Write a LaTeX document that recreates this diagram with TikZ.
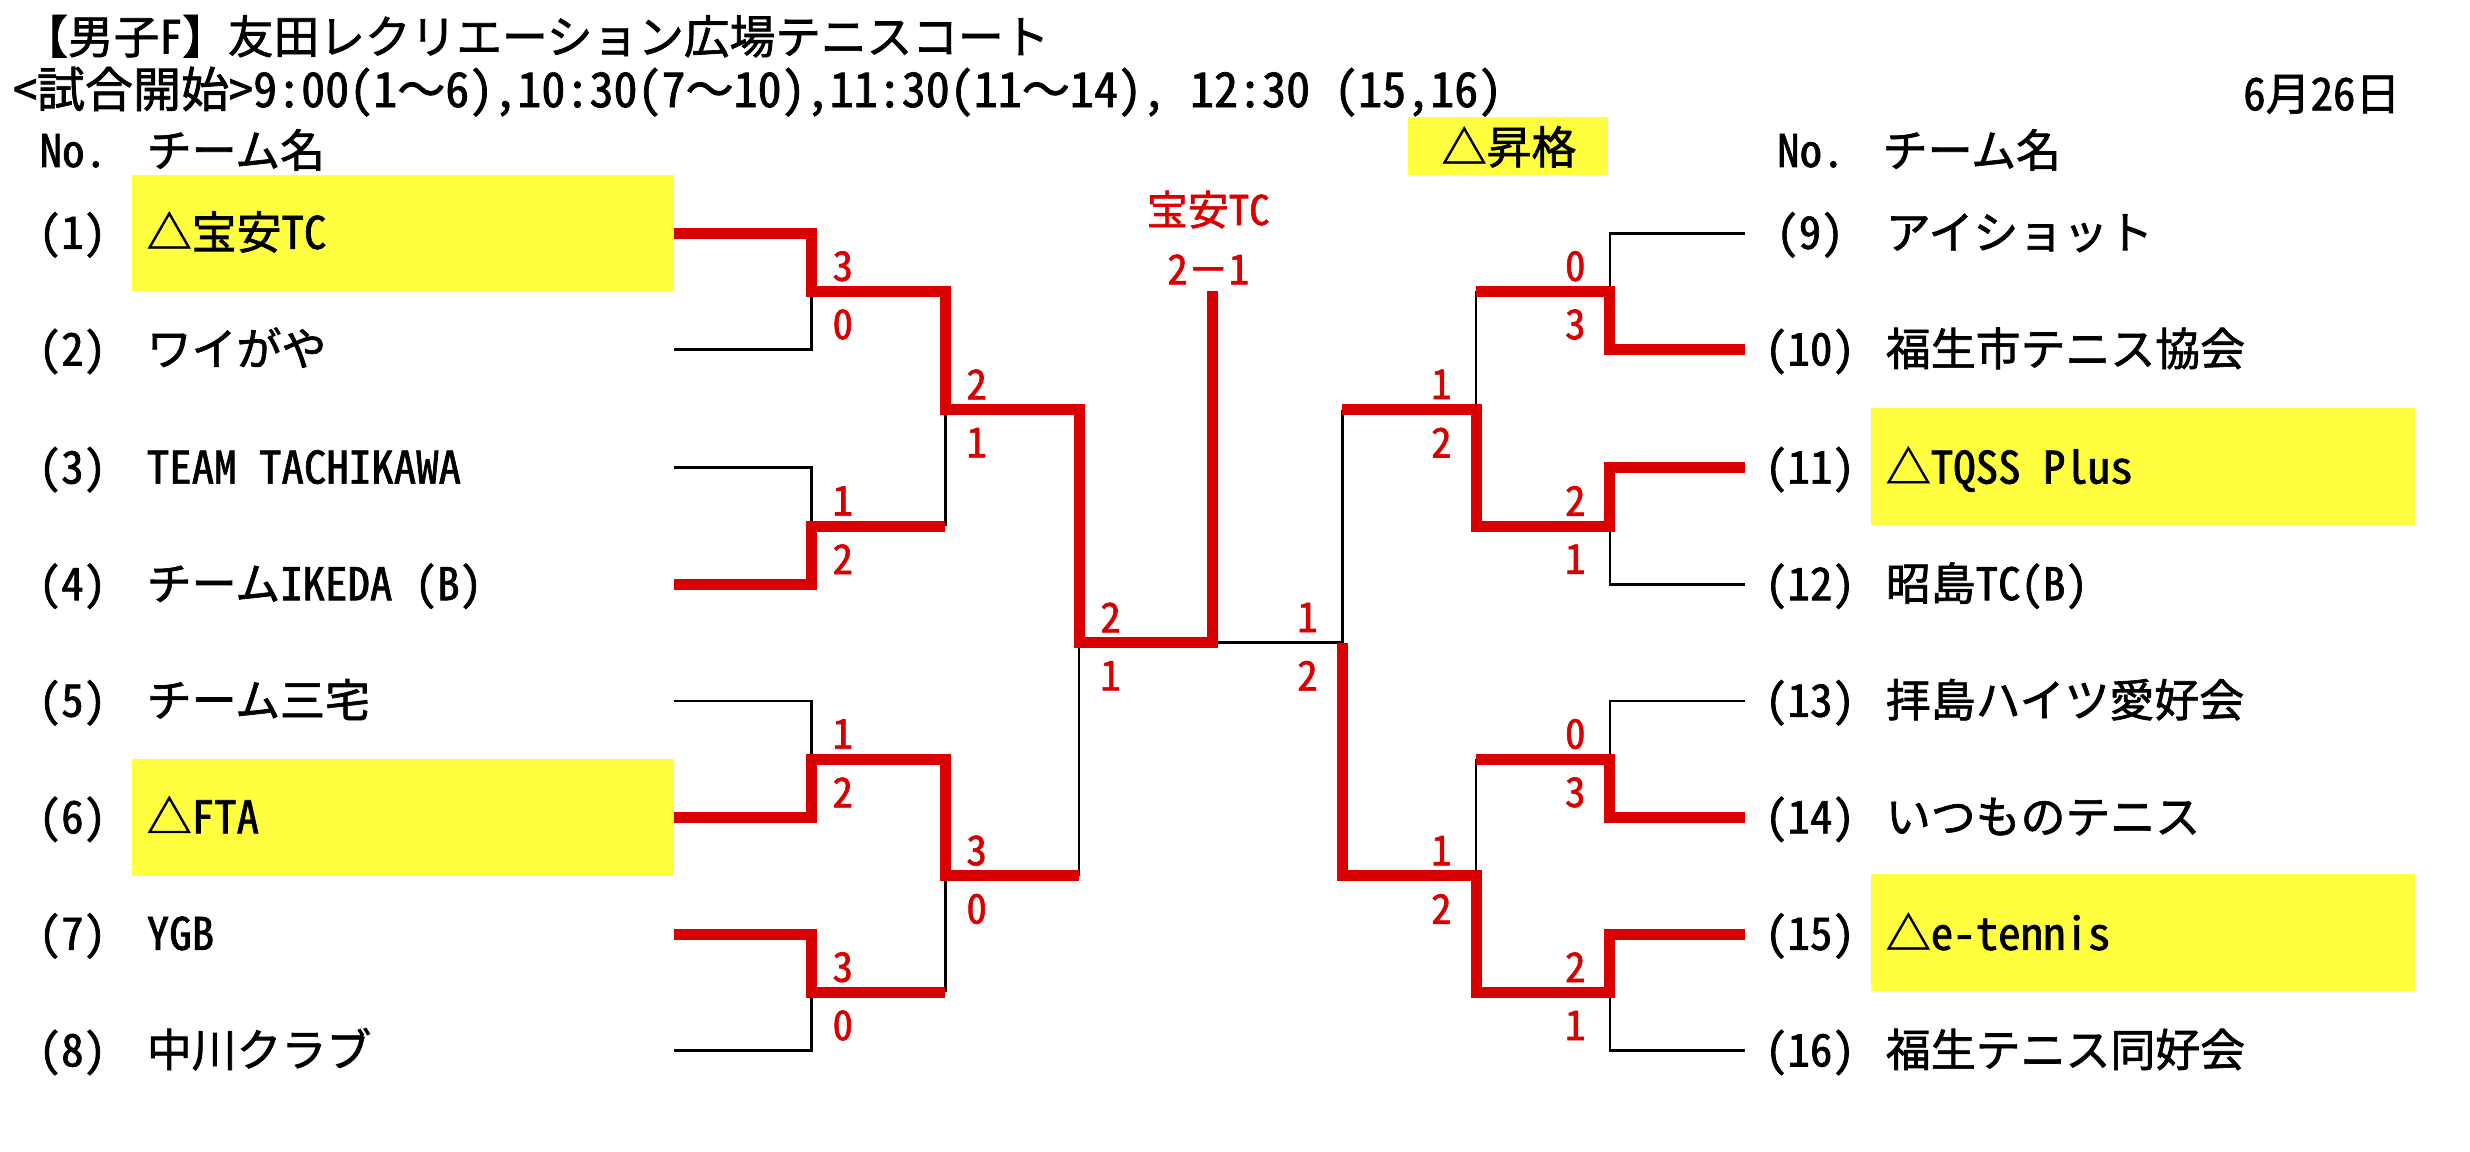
\documentclass[tikz,border=0pt]{standalone}
\usepackage{fontspec}
\setmainfont{Noto Sans CJK JP}[RawFeature=+hwid, FakeBold=1.5]
\newfontfamily\fw{Noto Sans CJK JP}[FakeBold=1.5]
\definecolor{bred}{RGB}{216,0,0}
\definecolor{hly}{RGB}{255,255,64}
\tikzset{
  jtxt/.style={inner sep=0pt, anchor=base west, yshift=-10pt, font=\fontsize{28.5}{28.5}\selectfont},
  numtxt/.style={inner sep=0pt, anchor=base, yshift=-10pt, font=\fontsize{28.5}{28.5}\selectfont},
  sc/.style={inner sep=0pt, anchor=center, text=bred, font=\fontsize{26}{26}\selectfont},
  win/.style={draw=bred, line width=7pt, line join=miter, line cap=butt},
  lose/.style={draw=black, line width=1.8pt, line cap=butt},
}
\begin{document}
\begin{tikzpicture}[x=1pt,y=-1pt]
\useasboundingbox (0,0) rectangle (1568,731);
\fill[white] (0,0) rectangle (1568,731);
% highlight boxes
\fill[hly] (84,111) rectangle (428,185);
\fill[hly] (84,482) rectangle (428,556);
\fill[hly] (1188,259) rectangle (1533,333);
\fill[hly] (1188,555) rectangle (1533,629);
\fill[hly] (894,74) rectangle (1021,111);
% titles
\node[jtxt, font=\fontsize{29}{29}\selectfont] (title) at (14,24) {【男子F】友田レクリエーション広場テニスコート};
\node[jtxt, font=\fontsize{30.5}{30.5}\selectfont] (sub) at (8,58) {<試合開始>9:00(1{\fw ～}6),10:30(7{\fw ～}10),11:30(11{\fw ～}14), 12:30 (15,16)};
\node[numtxt, anchor=base east] (date) at (1524,60) {6月26日};
\node[numtxt] (promo) at (958,94) {△昇格};
\node[jtxt] (noL) at (25,96) {No.};
\node[jtxt] (hdL) at (93,96) {チーム名};
\node[jtxt] (noR) at (1128,96) {No.};
\node[jtxt] (hdR) at (1195,96) {チーム名};
% team numbers and names
\foreach \i/\y/\nm in {1/148/△宝安TC,2/222/ワイがや,3/297/TEAM TACHIKAWA,4/371/チームIKEDA (B),5/445/チーム三宅,6/519/△FTA,7/593/YGB,8/667/中川クラブ}{
  \node[numtxt] (nl\i) at (46,\y) {(\i)};
  \node[jtxt] (tl\i) at (93,\y) {\nm};
}
\foreach \i/\y/\nm in {9/148/アイショット,10/222/福生市テニス協会,11/297/△TQSS Plus,12/371/昭島TC(B),13/445/拝島ハイツ愛好会,14/519/いつものテニス,15/593/△e-tennis,16/667/福生テニス同好会}{
  \node[numtxt] (nr\i) at (1149,\y) {(\i)};
  \node[jtxt] (tr\i) at (1197,\y) {\nm};
}
% bracket coordinates
\foreach \i/\y in {1/148,2/222,3/297,4/371,5/445,6/519,7/593,8/667}{
  \coordinate (L\i) at (428,\y);
  \coordinate (P\i) at (515,\y);
  \coordinate (RL\i) at (1108,\y);
  \coordinate (RP\i) at (1022,\y);
}
\coordinate (Q12) at (515,185); \coordinate (Q34) at (515,334);
\coordinate (Q56) at (515,482); \coordinate (Q78) at (515,630);
\coordinate (R12) at (600,185); \coordinate (R34) at (600,334);
\coordinate (R56) at (600,482); \coordinate (R78) at (600,630);
\coordinate (R14) at (600,260); \coordinate (R58) at (600,556);
\coordinate (S14) at (685,260); \coordinate (S58) at (685,556);
\coordinate (S18) at (685,408);
\coordinate (C) at (770,408); \coordinate (CT) at (770,185);
\coordinate (RQ12) at (1022,185); \coordinate (RQ34) at (1022,334);
\coordinate (RQ56) at (1022,482); \coordinate (RQ78) at (1022,630);
\coordinate (RR12) at (937,185); \coordinate (RR34) at (937,334);
\coordinate (RR56) at (937,482); \coordinate (RR78) at (937,630);
\coordinate (RR14) at (937,260); \coordinate (RR58) at (937,556);
\coordinate (RS14) at (852,260); \coordinate (RS58) at (852,556);
\coordinate (RS18) at (852,408);
% losing (black) lines
\draw[lose] (L2) -- (P2) -- (Q12);
\draw[lose] (L3) -- (P3) -- (Q34);
\draw[lose] (L5) -- (P5) -- (Q56);
\draw[lose] (L8) -- (P8) -- (Q78);
\draw[lose] (R14) -- (R34);
\draw[lose] (R58) -- (R78);
\draw[lose] (S18) -- (S58);
\draw[lose] (C) -- (RS18);
\draw[lose] (RL1) -- (RP1) -- (RQ12);
\draw[lose] (RL4) -- (RP4) -- (RQ34);
\draw[lose] (RL5) -- (RP5) -- (RQ56);
\draw[lose] (RL8) -- (RP8) -- (RQ78);
\draw[lose] (RR12) -- (RR14);
\draw[lose] (RR56) -- (RR58);
\draw[lose] (RS14) -- (RS18);
% winning (red) lines
\draw[win] (L1) -- (P1) -- (Q12) -- (R12) -- (R14) -- (S14) -- (S18) -- (C) -- (CT);
\draw[win] (L4) -- (P4) -- (Q34) -- (R34);
\draw[win] (L6) -- (P6) -- (Q56) -- (R56) -- (R58) -- (S58);
\draw[win] (L7) -- (P7) -- (Q78) -- (R78);
\draw[win] (RL2) -- (RP2) -- (RQ12) -- (RR12);
\draw[win] (RL3) -- (RP3) -- (RQ34) -- (RR34) -- (RR14) -- (RS14);
\draw[win] (RL6) -- (RP6) -- (RQ56) -- (RR56);
\draw[win] (RL7) -- (RP7) -- (RQ78) -- (RR78) -- (RR58) -- (RS58) -- (RS18);
% scores
\foreach \n/\x/\y/\a/\b in {a/535/185/3/0, b/535/334/1/2, c/535/482/1/2, d/535/630/3/0,
  e/620/260/2/1, f/620/556/3/0, g/705/408/2/1,
  h/1000/185/0/3, i/1000/334/2/1, j/1000/482/0/3, k/1000/630/2/1,
  l/915/260/1/2, m/915/556/1/2, n/830/408/1/2}{
  \node[sc] (su\n) at (\x,\y-16) {\a};
  \node[sc] (sd\n) at (\x,\y+21) {\b};
}
% champion
\node[sc] (champ) at (767,133) {宝安TC};
\node[sc] (final) at (767,171) {2{\fw －}1};
\end{tikzpicture}
\end{document}
